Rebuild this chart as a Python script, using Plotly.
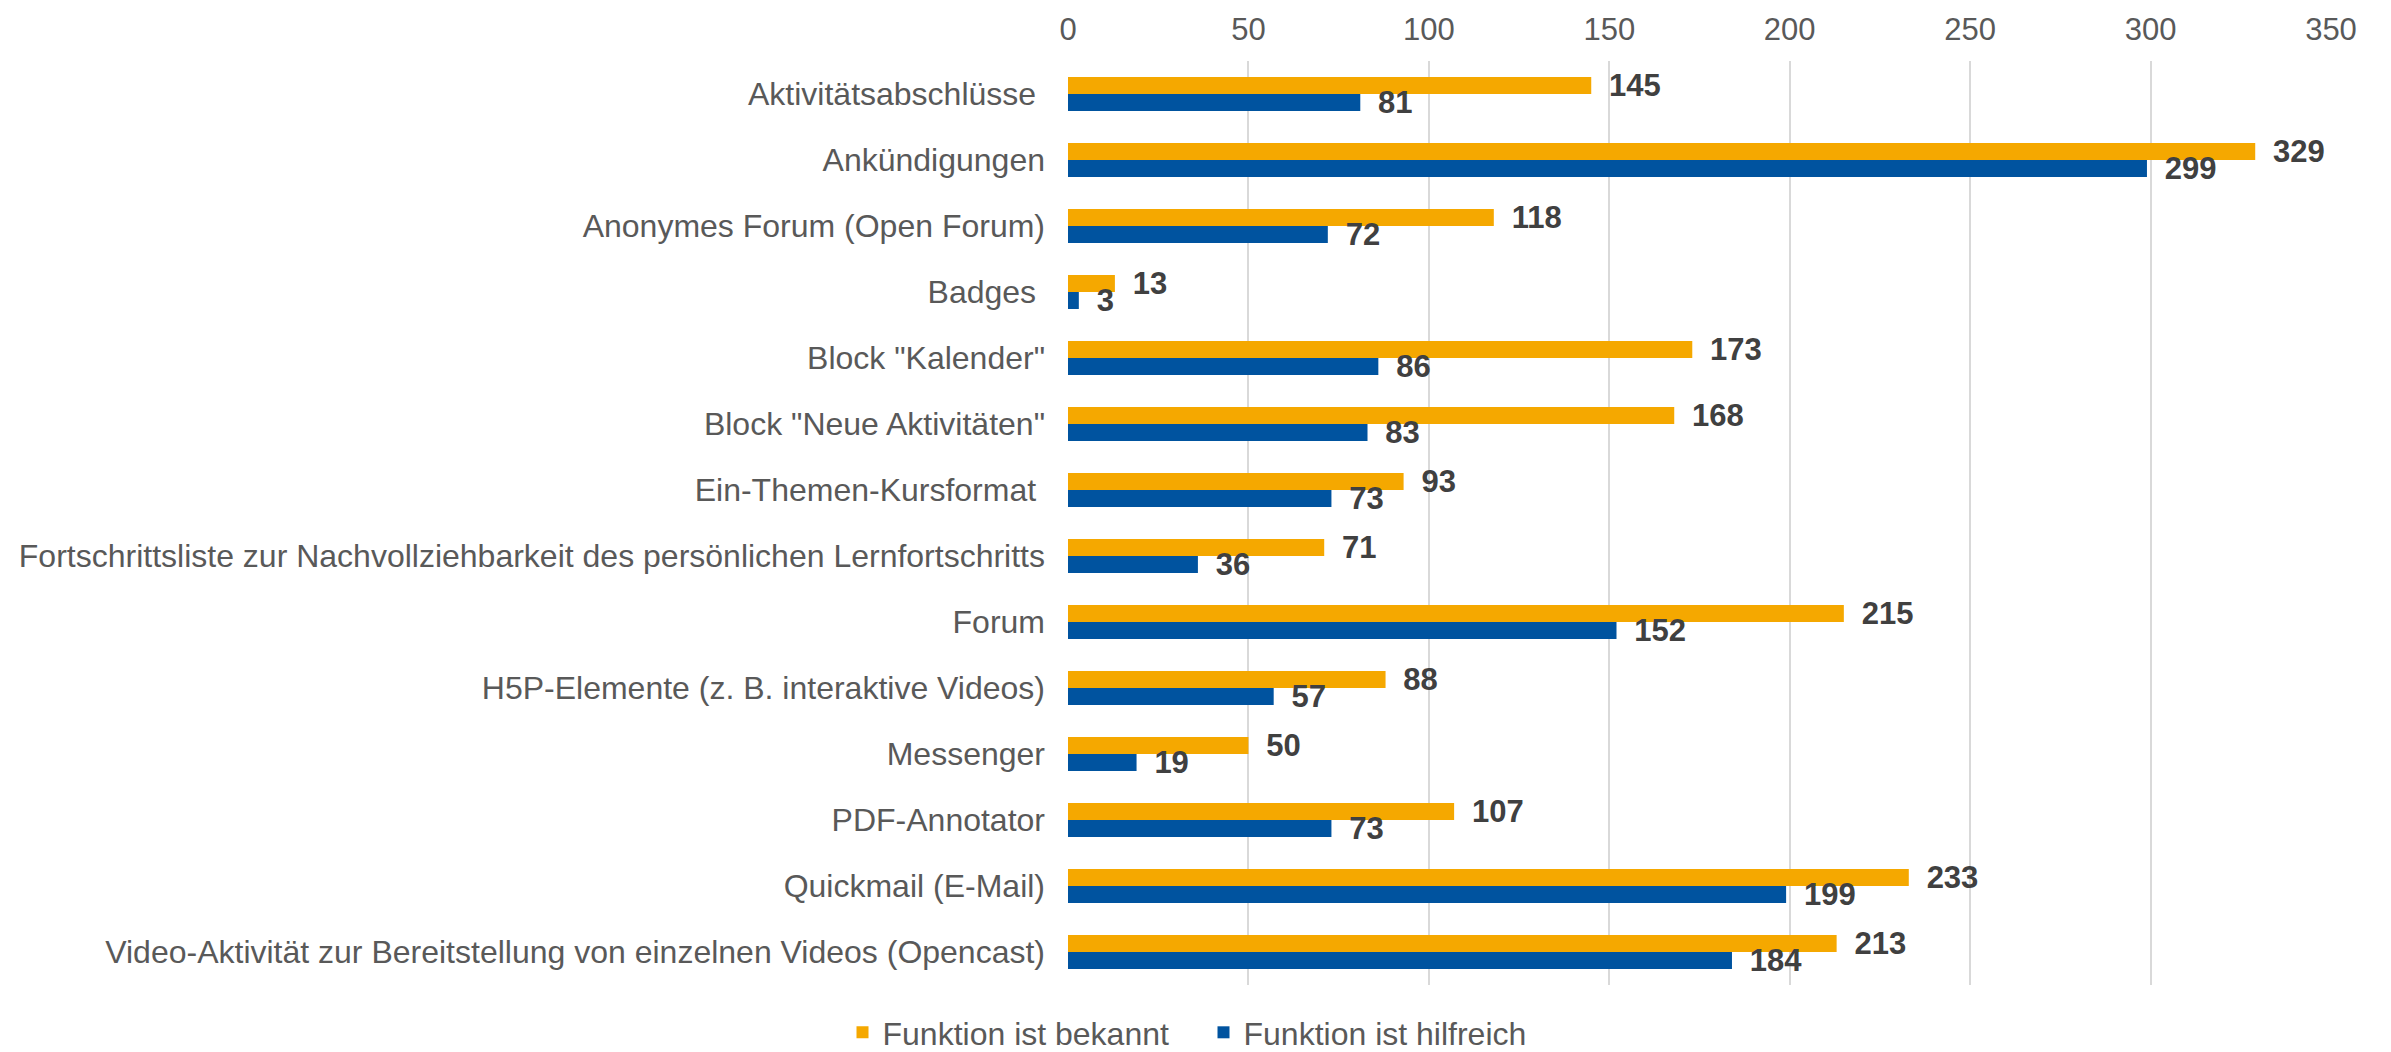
import plotly.graph_objects as go

categories = [
    "Aktivitätsabschlüsse\u00a0",
    "Ankündigungen",
    "Anonymes Forum (Open Forum)",
    "Badges\u00a0",
    "Block \"Kalender\"",
    "Block \"Neue Aktivitäten\"",
    "Ein-Themen-Kursformat\u00a0",
    "Fortschrittsliste zur Nachvollziehbarkeit des persönlichen Lernfortschritts",
    "Forum",
    "H5P-Elemente (z. B. interaktive Videos)",
    "Messenger",
    "PDF-Annotator",
    "Quickmail (E-Mail)",
    "Video-Aktivität zur Bereitstellung von einzelnen Videos (Opencast)",
]
bekannt = [145, 329, 118, 13, 173, 168, 93, 71, 215, 88, 50, 107, 233, 213]
hilfreich = [81, 299, 72, 3, 86, 83, 73, 36, 152, 57, 19, 73, 199, 184]
x_ticks = [0, 50, 100, 150, 200, 250, 300, 350]

ORANGE = "#F5A800"
BLUE = "#00539F"
FONT = "Liberation Sans, Arial, sans-serif"
GRAY = "#595959"

fig = go.Figure()
for name, vals, color in [("Funktion ist bekannt", bekannt, ORANGE),
                          ("Funktion ist hilfreich", hilfreich, BLUE)]:
    fig.add_trace(go.Bar(
        y=categories, x=vals, orientation="h", name=name,
        marker=dict(color=color, line=dict(width=0)),
        text=vals, texttemplate="\u00a0\u2009%{x}", textposition="outside",
        constraintext="none",
        textfont=dict(family=FONT, size=31, color="#404040", weight="bold"),
        cliponaxis=False,
    ))

fig.update_layout(
    width=2391, height=1052,
    barmode="group", bargap=0.485, bargroupgap=0,
    plot_bgcolor="white", paper_bgcolor="white",
    font=dict(family=FONT, size=32, color=GRAY),
    margin=dict(l=1060, r=68, t=53, b=75, autoexpand=False),
    uniformtext=dict(mode=False),
    xaxis=dict(
        side="top", range=[0, 350], tickvals=x_ticks,
        showgrid=True, gridcolor="#D9D9D9", gridwidth=2,
        zeroline=False, showline=False, ticks="",
        ticklabelstandoff=14, automargin=False,
        tickfont=dict(size=31, color=GRAY),
    ),
    yaxis=dict(
        autorange="reversed", showgrid=False, ticks="", showline=False,
        ticklabelstandoff=22, automargin=False,
        tickfont=dict(size=32, color=GRAY),
    ),
    legend=dict(
        orientation="h", xref="container", yref="container",
        x=0.5, xanchor="center", y=0.0, yanchor="bottom",
        font=dict(size=32, color=GRAY),
        itemwidth=30, traceorder="normal",
        entrywidth=316, entrywidthmode="pixels",
    ),
    showlegend=True,
)

fig.write_html("out.html")
